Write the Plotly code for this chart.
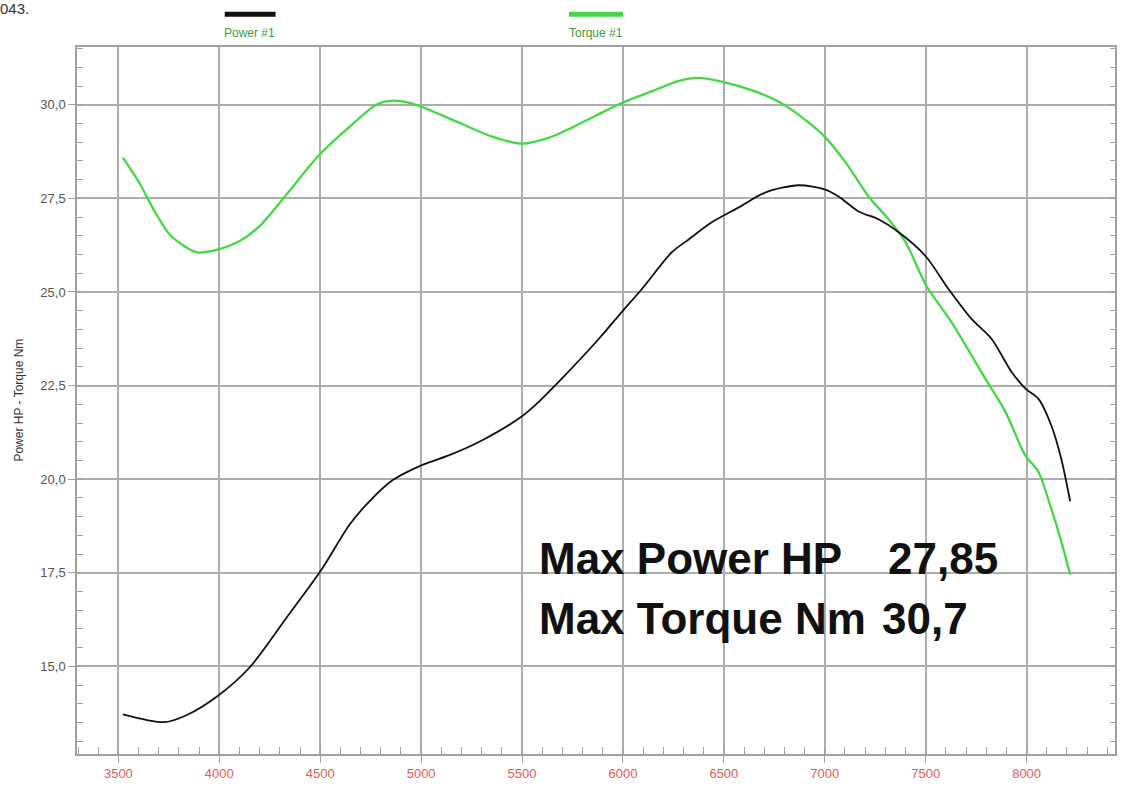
import plotly.graph_objects as go

# ---- data ----
torque_rpm = [3522, 3600, 3680, 3760, 3888, 3997, 4101, 4200, 4313, 4497, 4645, 4778, 4858, 4942, 5001,
              5189, 5352, 5500, 5634, 5748, 5995, 6163, 6277, 6376, 6495, 6658, 6772, 6871, 6999,
              7103, 7217, 7316, 7400, 7504, 7627, 7795, 7894, 7993, 8057, 8121, 8171, 8216]
torque_nm = [28.59, 27.95, 27.15, 26.50, 26.06, 26.14, 26.36, 26.76, 27.47, 28.67, 29.41, 30.00, 30.11, 30.05, 29.95,
             29.52, 29.15, 28.96, 29.12, 29.39, 30.05, 30.40, 30.64, 30.72, 30.61, 30.35, 30.08, 29.73, 29.15,
             28.46, 27.55, 26.94, 26.33, 25.16, 24.20, 22.69, 21.81, 20.64, 20.21, 19.23, 18.35, 17.45]

power_rpm = [3522, 3730, 3839, 3997, 4150, 4333, 4506, 4645, 4744, 4858, 5001, 5140, 5303, 5500,
             5584, 5698, 5881, 5995, 6094, 6242, 6327, 6440, 6574, 6707, 6871, 6999, 7068, 7167,
             7266, 7365, 7499, 7613, 7727, 7826, 7925, 7994, 8058, 8122, 8171, 8216]
power_hp = [13.72, 13.51, 13.70, 14.23, 14.97, 16.30, 17.58, 18.78, 19.41, 19.97, 20.37, 20.64, 21.04, 21.68,
            22.07, 22.69, 23.75, 24.47, 25.08, 26.06, 26.41, 26.86, 27.26, 27.66, 27.85, 27.74, 27.55, 27.15,
            26.94, 26.60, 25.96, 25.08, 24.28, 23.75, 22.87, 22.42, 22.15, 21.44, 20.56, 19.41]

x_ticks = [3500, 4000, 4500, 5000, 5500, 6000, 6500, 7000, 7500, 8000]
x_labels = ["3500", "4000", "4500", "5000", "5500", "6000", "6500", "7000", "7500", "8000"]
y_ticks = [15.0, 17.5, 20.0, 22.5, 25.0, 27.5, 30.0]
y_labels = ["15,0", "17,5", "20,0", "22,5", "25,0", "27,5", "30,0"]

series_names = ["Power #1", "Torque #1"]
max_power_text = "27,85"
max_torque_text = "30,7"

# ---- layout geometry (pixels) ----
W, H = 1121, 785
L, R, T, B = 77, 1117, 47, 757


def px(x):
    return (x - L) / (R - L)


def py(y):
    return (B - y) / (B - T)


GRID = "#adadad"
AXIS = "#a0a0a0"
GREEN = "#44d844"
Y_RANGE = [30 - (B - 105) / 37.6, 30 + (105 - T) / 37.6]

fig = go.Figure()
fig.add_trace(go.Scatter(x=torque_rpm, y=torque_nm, mode="lines", name=series_names[1],
                         line=dict(color=GREEN, width=2.3, shape="spline", smoothing=0.8)))
fig.add_trace(go.Scatter(x=power_rpm, y=power_hp, mode="lines", name=series_names[0],
                         line=dict(color="#111111", width=1.8, shape="spline", smoothing=0.8)))
# invisible trace to drive the right-hand axis ticks
fig.add_trace(go.Scatter(x=[power_rpm[0]], y=[power_hp[0]], yaxis="y2", mode="markers",
                         marker=dict(opacity=0), showlegend=False, hoverinfo="skip"))

fig.update_layout(
    width=W, height=H,
    margin=dict(l=L, r=W - R, t=T, b=H - B),
    paper_bgcolor="white", plot_bgcolor="white",
    showlegend=False,
    font=dict(family="Liberation Sans, Arial, sans-serif", size=13, color="#555555"),
    xaxis=dict(
        range=[3295, 8438], tickvals=x_ticks, ticktext=x_labels,
        showgrid=True, gridcolor=GRID, gridwidth=1.6,
        showline=True, linecolor=AXIS, linewidth=1.5, mirror=True,
        ticks="outside", ticklen=7, tickcolor=AXIS, tickwidth=1.3,
        tickfont=dict(color="#e05a5a", size=13),
        minor=dict(dtick=100, tick0=0, ticks="inside", ticklen=7, tickcolor=AXIS, tickwidth=1, showgrid=False),
        zeroline=False,
    ),
    yaxis=dict(
        range=Y_RANGE, tickvals=y_ticks, ticktext=y_labels,
        showgrid=True, gridcolor=GRID, gridwidth=1.6,
        showline=True, linecolor=AXIS, linewidth=1.5, mirror=True,
        ticks="outside", ticklen=7, tickcolor=AXIS, tickwidth=1.3,
        tickfont=dict(color="#555555", size=13),
        minor=dict(dtick=0.5, tick0=0, ticks="inside", ticklen=6, tickcolor=AXIS, tickwidth=1, showgrid=False),
        zeroline=False,
    ),
    yaxis2=dict(
        range=Y_RANGE, overlaying="y", side="right", showgrid=False, showticklabels=False,
        ticks="inside", ticklen=7, tickcolor=AXIS, tickvals=y_ticks,
        minor=dict(dtick=0.5, tick0=0, ticks="inside", ticklen=5, tickcolor=AXIS, tickwidth=1),
        showline=False, zeroline=False,
    ),
)

# legend marks (top)
fig.add_shape(type="line", xref="paper", yref="paper", x0=px(225), x1=px(276), y0=py(14), y1=py(14),
              line=dict(color="#111111", width=5))
fig.add_shape(type="line", xref="paper", yref="paper", x0=px(570), x1=px(624), y0=py(14), y1=py(14),
              line=dict(color=GREEN, width=5))
fig.add_annotation(xref="paper", yref="paper", x=px(250), y=py(33), text=series_names[0], showarrow=False,
                   font=dict(size=12, color="#3d9b3d"), xanchor="center", yanchor="middle")
fig.add_annotation(xref="paper", yref="paper", x=px(597), y=py(33), text=series_names[1], showarrow=False,
                   font=dict(size=12, color="#3d9b3d"), xanchor="center", yanchor="middle")

# fragment at top-left
fig.add_annotation(xref="paper", yref="paper", x=px(-2), y=py(8), text="043.", showarrow=False,
                   font=dict(size=15, color="#333333"), xanchor="left", yanchor="middle")

# y-axis title
fig.add_annotation(xref="paper", yref="paper", x=px(18), y=0.5, text="Power HP - Torque Nm", showarrow=False,
                   textangle=-90, font=dict(size=12, color="#333333"), xanchor="center", yanchor="middle")

# max values text
big = dict(size=44, color="#111111", family="Liberation Sans, Arial, sans-serif")
fig.add_annotation(xref="paper", yref="paper", x=px(538), y=py(561), text="<b>Max Power HP</b>", showarrow=False,
                   font=big, xanchor="left", yanchor="middle")
fig.add_annotation(xref="paper", yref="paper", x=px(888), y=py(561), text="<b>" + max_power_text + "</b>",
                   showarrow=False, font=big, xanchor="left", yanchor="middle")
fig.add_annotation(xref="paper", yref="paper", x=px(538), y=py(621), text="<b>Max Torque Nm</b>", showarrow=False,
                   font=big, xanchor="left", yanchor="middle")
fig.add_annotation(xref="paper", yref="paper", x=px(882), y=py(621), text="<b>" + max_torque_text + "</b>",
                   showarrow=False, font=big, xanchor="left", yanchor="middle")

fig.write_html("out.html", config={"displayModeBar": False},
               post_script="document.body.style.margin='0';")
